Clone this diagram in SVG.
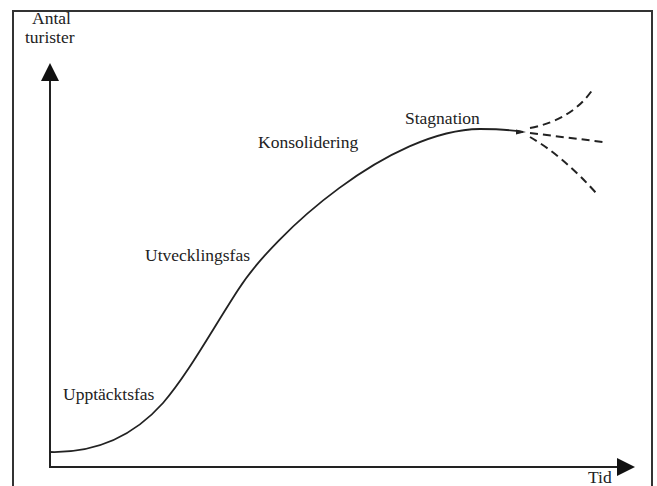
<svg xmlns="http://www.w3.org/2000/svg" width="657" height="486" viewBox="0 0 657 486">
<style>
text{font-family:"Liberation Serif","Times New Roman",serif;font-size:17.5px;fill:#222}
.ax{stroke:#222;stroke-width:2;fill:none}
.cv{stroke:#222;stroke-width:1.8;fill:none}
.ds{stroke:#222;stroke-width:2;fill:none;stroke-dasharray:8 5}
</style>
<rect width="657" height="486" fill="#fff"/>
<rect x="13" y="11" width="639" height="500" fill="none" stroke="#333" stroke-width="2"/>
<g id="axes">
<line class="ax" x1="50" y1="78" x2="50" y2="468"/>
<line class="ax" x1="49" y1="467" x2="620" y2="467"/>
<polygon points="50,63 59,81 41,81" fill="#111"/>
<polygon points="635,467 617,458 617,476" fill="#111"/>
<text x="32" y="24">Antal</text>
<text x="25" y="43">turister</text>
<text x="588" y="483">Tid</text>
</g>
<g id="curve">
<path class="cv" d="M50,452 C90,453 130,440 163,403 C188,374 212,330 238,290 C275,232 390,130 480,129 C500,129 512,130 523,132"/>
<polygon points="516,129.5 526,132 516,134.5" fill="#222"/>
</g>
<g id="labels">
<text x="63" y="400">Upptäcktsfas</text>
<text x="145" y="261">Utvecklingsfas</text>
<text x="258" y="148">Konsolidering</text>
<text x="405" y="124">Stagnation</text>
</g>
<g id="connectors">
<path class="ds" d="M530,128 Q572,120 593,89"/>
<path class="ds" d="M530,133 L603,142"/>
<path class="ds" d="M530,137 Q563,156 597,194"/>
</g>
</svg>
